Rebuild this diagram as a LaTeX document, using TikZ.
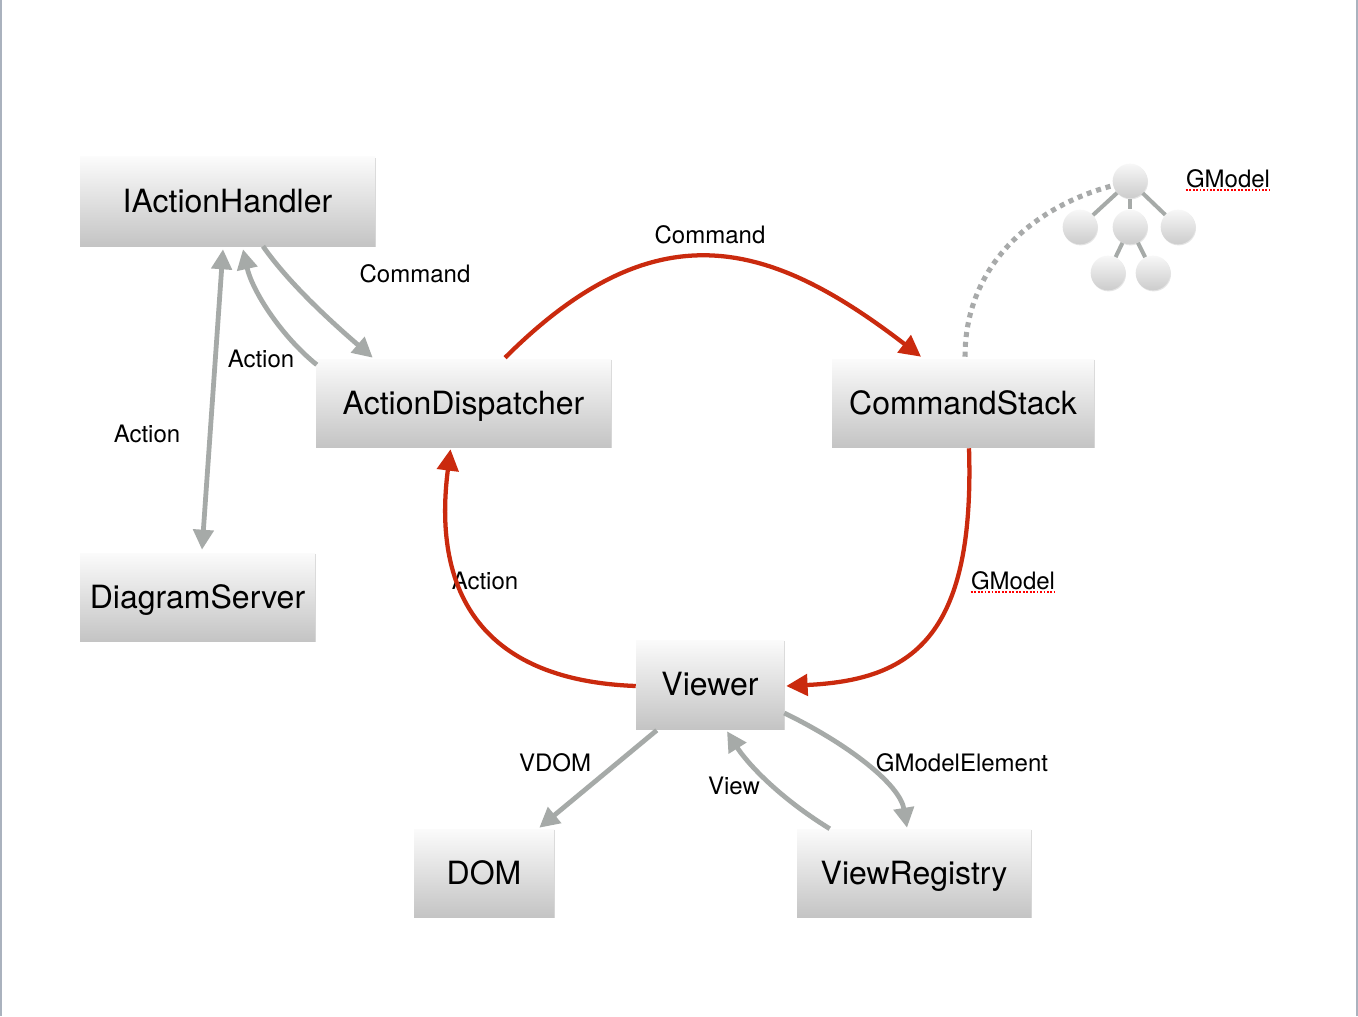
\documentclass[tikz,border=0pt]{standalone}
\usepackage{fontspec}
\setmainfont{TeX Gyre Heros}
\usetikzlibrary{arrows.meta,calc,shadows}
\definecolor{agray}{RGB}{166,170,168}
\definecolor{ared}{RGB}{202,42,14}
\definecolor{dgray}{RGB}{168,170,170}
\definecolor{edgeln}{RGB}{170,178,190}
\definecolor{boxtop}{RGB}{251,251,251}
\definecolor{boxbot}{RGB}{196,196,196}
\begin{document}
\begin{tikzpicture}[x=0.75pt,y=-0.75pt,
 box/.style={rectangle, inner sep=0pt, top color=boxtop, bottom color=boxbot,
   drop shadow={opacity=0.3, shadow xshift=0.6pt, shadow yshift=-0.9pt},
   font=\fontsize{24}{28}\selectfont, text height=17.2pt, text depth=0pt},
 lbl/.style={inner sep=0pt, font=\fontsize{18}{21}\selectfont, text height=12.9pt, text depth=0pt},
 garrow/.style={draw=agray, line width=3.6pt, -{Triangle[length=15pt,width=15pt]}},
 garrowtwo/.style={draw=agray, line width=3.6pt, {Triangle[length=15pt,width=15pt]}-{Triangle[length=15pt,width=15pt]}},
 rarrow/.style={draw=ared, line width=3.2pt, -{Triangle[length=16pt,width=16pt]}},
 tnode/.style={circle, inner sep=0pt, minimum size=26pt, top color=black!3, bottom color=black!20,
   drop shadow={opacity=0.2, shadow xshift=0.5pt, shadow yshift=-0.8pt}},
 tedge/.style={draw=agray, line width=3pt},
 dotline/.style={draw=dgray, line width=3.8pt, dash pattern=on 3.8pt off 3.6pt},
 squig/.style={draw=red, line width=1.4pt, dash pattern=on 1.4pt off 1.2pt},
 edgeline/.style={draw=edgeln, line width=1.2pt}
]
\fill[white] (0,0) rectangle (1358,1016);
\useasboundingbox (0,0) rectangle (1358,1016);
\draw[edgeline] (0.8,0) -- (0.8,1016);
\draw[edgeline] (1357.2,0) -- (1357.2,1016);

% boxes
\node[box, minimum width=221.25pt, minimum height=66.75pt] (ih) at (227.5,201.5) {IActionHandler};
\node[box, minimum width=221.25pt, minimum height=66pt] (ad) at (463.5,403) {ActionDispatcher};
\node[box, minimum width=196.5pt, minimum height=66pt] (cs) at (963,403) {CommandStack};
\node[box, minimum width=176.25pt, minimum height=66pt] (ds) at (197.5,597) {DiagramServer};
\node[box, minimum width=111pt, minimum height=66.75pt] (vw) at (710,684.5) {Viewer};
\node[box, minimum width=105pt, minimum height=66pt] (dom) at (484,873) {DOM};
\node[box, minimum width=175.5pt, minimum height=66pt] (vr) at (914,873) {ViewRegistry};

% tree
\node[tnode] (t0) at (1130,181) {};
\node[tnode] (t1) at (1080,227) {};
\node[tnode] (t2) at (1130,227) {};
\node[tnode] (t3) at (1178,227) {};
\node[tnode] (t4) at (1108,273) {};
\node[tnode] (t5) at (1153,273) {};
\draw[tedge] (t0) -- (t1);
\draw[tedge] (t0) -- (t2);
\draw[tedge] (t0) -- (t3);
\draw[tedge] (t2) -- (t4);
\draw[tedge] (t2) -- (t5);

% labels
\node[lbl] (lcmd1) at (415,274) {Command};
\node[lbl] (lact1) at (261,359) {Action};
\node[lbl] (lact2) at (147,434) {Action};
\node[lbl] (lcmd2) at (710,235) {Command};
\node[lbl] (lgm1) at (1228,179) {GModel};
\node[lbl] (lact3) at (485,581) {Action};
\node[lbl] (lgm2) at (1013,581) {GModel};
\node[lbl] (lvdom) at (555,763) {VDOM};
\node[lbl] (lview) at (734,786) {View};
\node[lbl] (lgme) at (962,763) {GModelElement};
\draw[squig] ($(lgm1.base west)+(0,2.5)$) -- ($(lgm1.base east)+(0,2.5)$);
\draw[squig] ($(lgm2.base west)+(0,2.5)$) -- ($(lgm2.base east)+(0,2.5)$);

% gray connectors, top left
\draw[garrowtwo] ($(ih.south)+(-4.5,3)$) -- ($(ds.north)+(4.5,-3)$);
\draw[garrow] ($(ad.north west)+(1,6)$) .. controls (280,335) and (252,290) .. ($(ih.south)+(15.5,3)$);
\draw[garrow] ($(ih.south)+(35.5,0)$) .. controls (290,285) and (335,325) .. ($(ad.north west)+(57,-1)$);

% red cycle
\draw[rarrow] ($(ad.north)+(41.5,-1)$) .. controls (655,208) and (768,239) .. ($(cs.north)+(-42,-2)$);
\draw[rarrow] ($(cs.south)+(6,1)$) .. controls (975,640) and (910,680) .. ($(vw.east)+(2,1.5)$);
\draw[rarrow] ($(vw.west)+(0,1.5)$) .. controls (475,680) and (433,585) .. ($(ad.south)+(-13,2)$);

% gray connectors, bottom
\draw[garrow] ($(vw.south west)+(21,1)$) -- ($(dom.north east)+(-15,-1)$);
\draw[garrow] ($(vr.north west)+(33,0)$) .. controls (775,795) and (745,760) .. ($(vw.south)+(17,2)$);
\draw[garrow] ($(vw.east)+(0,28.5)$) .. controls (850,745) and (900,785) .. ($(vr.north)+(-7,-1)$);

% dotted link to model tree
\draw[dotline] ($(cs.north)+(2,-2)$) .. controls (965,260) and (1040,205) .. ($(t0.west)+(-1,5)$);
\end{tikzpicture}
\end{document}
